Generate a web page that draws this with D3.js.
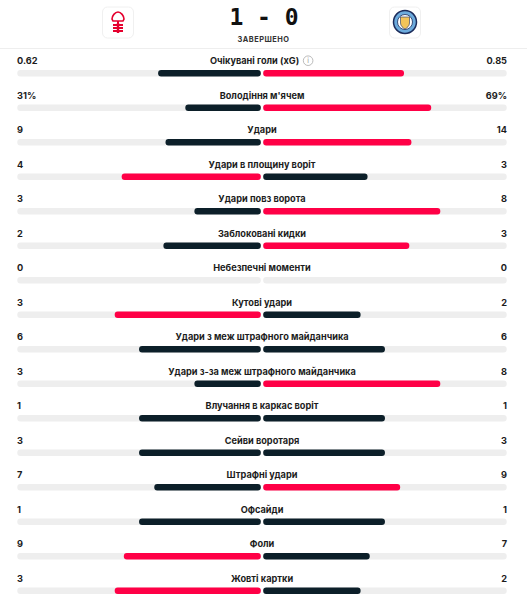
<!DOCTYPE html>
<html><head><meta charset="utf-8">
<script src="https://cdn.jsdelivr.net/npm/d3@7"></script>
<style>
html,body{margin:0;padding:0;background:#fff;}
svg{display:block;}
</style></head>
<body>
<svg id="chart" width="527" height="600"></svg>
<script>
const categories = ["Очікувані голи (xG)","Володіння м'ячем","Удари","Удари в площину воріт","Удари повз ворота","Заблоковані кидки","Небезпечні моменти","Кутові удари","Удари з меж штрафного майданчика","Удари з-за меж штрафного майданчика","Влучання в каркас воріт","Сейви воротаря","Штрафні удари","Офсайди","Фоли","Жовті картки"];
const homeValues = [0.62,31,9,4,3,2,0,3,6,3,1,3,7,1,9,3];
const awayValues = [0.85,69,14,3,8,3,0,2,6,8,1,3,9,1,7,2];
const valueSuffix = ["","%","","","","","","","","","","","","","",""];
const homeScore = 1, awayScore = 0;
const status = "ЗАВЕРШЕНО";

const W = 527;
const svg = d3.select("#chart");
const RED = "#ff0046", DARK = "#0c1f29", TRACK = "#eeeeee", TXT = "#1c1c1c";
const font = "Inter, 'Noto Sans', sans-serif";
const FS = 9.2, FW = 700;

// header
const logoBox = (cx) => svg.append("rect").attr("x", cx-15.5).attr("y", 7).attr("width", 31).attr("height", 31)
  .attr("rx", 5).attr("fill", "#fff").attr("stroke", "#f0f0f0").attr("stroke-width", 1);
logoBox(118); logoBox(405);
// Forest tree
const f = svg.append("g").attr("transform", "translate(118,22)");
f.append("path").attr("d","M0,-10 C-3,-10 -6,-6 -6,-3 L-5,-1 L5,-1 L6,-3 C6,-6 3,-10 0,-10 Z")
  .attr("fill","none").attr("stroke", "#e5002e").attr("stroke-width", 1.6);
f.append("rect").attr("x",-1).attr("y",-1).attr("width",2).attr("height",4).attr("fill","#e5002e");
[2,5,8].forEach(y=>f.append("rect").attr("x",-5).attr("y",y).attr("width",10).attr("height",2).attr("fill","#e5002e"));
f.append("rect").attr("x",-1.2).attr("y",1).attr("width",2.4).attr("height",10).attr("fill","#e5002e");
// City badge
const c = svg.append("g").attr("transform","translate(405,22)");
c.append("circle").attr("r",11.5).attr("fill","#6cabdd").attr("stroke","#1c2c5b").attr("stroke-width",1.5);
c.append("circle").attr("r",7.5).attr("fill","#fff").attr("stroke","#1c2c5b").attr("stroke-width",0.8);
c.append("path").attr("d","M-4.5,-5 L4.5,-5 L4.5,1 C4.5,4 2,6 0,7 C-2,6 -4.5,4 -4.5,1 Z").attr("fill","#f2c45a").attr("stroke","#1c2c5b").attr("stroke-width",0.6);

svg.append("text").attr("x", W/2+0.5).attr("y", 24.5).attr("text-anchor","middle")
  .attr("font-family","'DejaVu Sans Mono', monospace").attr("font-weight","bold").attr("font-size",23)
  .attr("fill", "#111").text(`${homeScore} - ${awayScore}`);
svg.append("text").attr("x", W/2).attr("y", 41.5).attr("text-anchor","middle")
  .attr("font-family",font).attr("font-weight",700).attr("font-size",7.4).attr("letter-spacing",0.5)
  .attr("fill","#333").text(status);
svg.append("line").attr("x1",0).attr("x2",W).attr("y1",48.5).attr("y2",48.5).attr("stroke","#eeeeee");

// rows
const idx = d3.range(categories.length);
const y = d3.scaleLinear().domain([0, categories.length-1]).range([70, 587.6]);
const center = 262, gap = 1.2, half = 243.5;
const len = d3.scaleLinear().domain([0,1]).range([0, half]);
const barH = 6.5;

const rows = svg.selectAll("g.row").data(idx).join("g").attr("class","row")
  .attr("transform", i => `translate(0,${y(i)})`);

rows.append("rect").attr("x", center-gap-half).attr("y",0).attr("width",half).attr("height",barH).attr("rx",3).attr("fill",TRACK);
rows.append("rect").attr("x", center+gap).attr("y",0).attr("width",half).attr("height",barH).attr("rx",3).attr("fill",TRACK);

const share = (a,b) => (a+b)===0 ? 0 : a/(a+b);
const colorH = i => homeValues[i] > awayValues[i] ? RED : DARK;
const colorA = i => awayValues[i] > homeValues[i] ? RED : DARK;

rows.filter(i => homeValues[i] > 0).append("rect")
  .attr("x", i => center-gap-len(share(homeValues[i],awayValues[i]))).attr("y",0)
  .attr("width", i => len(share(homeValues[i],awayValues[i]))).attr("height",barH).attr("rx",3)
  .attr("fill", colorH);
rows.filter(i => awayValues[i] > 0).append("rect")
  .attr("x", center+gap).attr("y",0)
  .attr("width", i => len(share(awayValues[i],homeValues[i]))).attr("height",barH).attr("rx",3)
  .attr("fill", colorA);

rows.append("text").attr("x",17).attr("y",-6).attr("font-family",font).attr("font-weight",FW).attr("font-size",FS)
  .attr("fill",TXT).text(i => homeValues[i] + valueSuffix[i]);
rows.append("text").attr("x",507).attr("y",-6).attr("text-anchor","end").attr("font-family",font).attr("font-weight",FW).attr("font-size",FS)
  .attr("fill",TXT).text(i => awayValues[i] + valueSuffix[i]);

rows.each(function(i){
  const g = d3.select(this);
  const t = g.append("text").attr("y",-6).attr("font-family",font).attr("font-weight",FW).attr("font-size",FS)
    .attr("fill",TXT).text(categories[i]);
  const w = t.node().getComputedTextLength();
  const extra = i === 0 ? 15 : 0;
  const x0 = center - (w+extra)/2;
  t.attr("x", x0);
  if (i === 0) {
    const cx = x0 + w + 9, cy = -9.3;
    g.append("circle").attr("cx",cx).attr("cy",cy).attr("r",4.8).attr("fill","none").attr("stroke","#aaa").attr("stroke-width",0.8);
    g.append("text").attr("x",cx).attr("y",cy+2.6).attr("text-anchor","middle").attr("font-family",font).attr("font-size",7).attr("fill","#999").text("i");
  }
});
</script>
</body></html>
